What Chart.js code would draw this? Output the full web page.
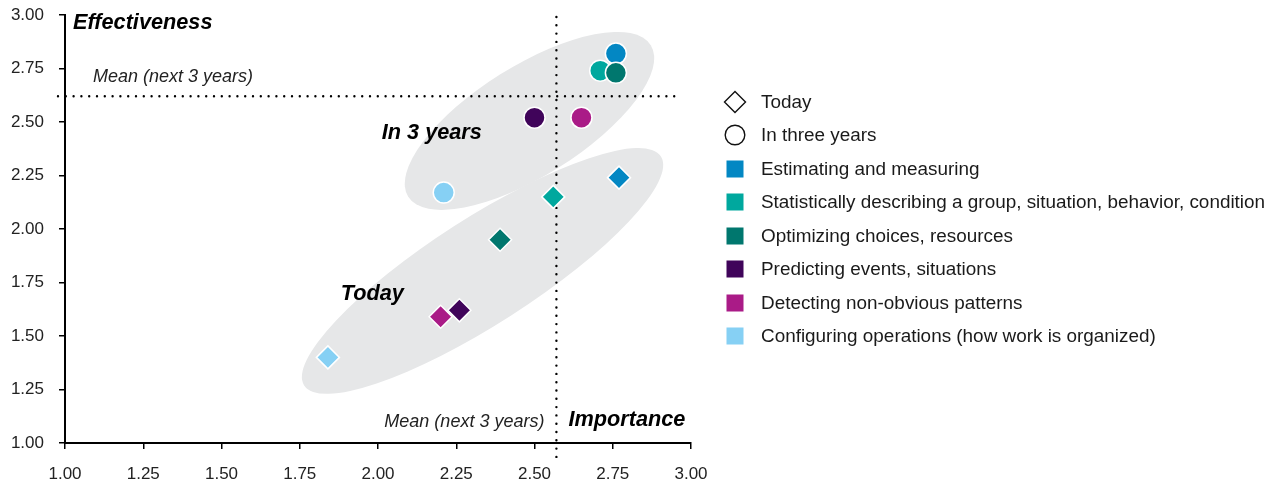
<!DOCTYPE html>
<html>
<head>
<meta charset="utf-8">
<script src="https://cdn.jsdelivr.net/npm/chart.js@4.4.0/dist/chart.umd.min.js"></script>
<style>
html,body{margin:0;padding:0;background:#fff;width:1274px;height:486px;overflow:hidden;font-family:"Liberation Sans",Arial,Helvetica,sans-serif;}
#wrap{position:relative;width:1274px;height:486px;}
#c{position:absolute;left:0;top:0;}
#legend{position:absolute;left:722px;top:85px;margin:0;padding:0;list-style:none;}
#legend li{height:33.5px;display:flex;align-items:center;font-size:18.9px;color:#1a1a1a;white-space:nowrap;}
#legend svg{width:26px;height:26px;margin-right:13px;flex:none;}
</style>
</head>
<body>
<div id="wrap">
  <canvas id="c" width="1274" height="486"></canvas>
  <ul id="legend"></ul>
</div>
<script>
// ---- data ----
const categories = [
  'Estimating and measuring',
  'Statistically describing a group, situation, behavior, condition',
  'Optimizing choices, resources',
  'Predicting events, situations',
  'Detecting non-obvious patterns',
  'Configuring operations (how work is organized)'
];
const colors = ['#0387c3', '#00a89e', '#00776e', '#40045a', '#aa1b87', '#86d0f4'];
const timeLabels = ['Today', 'In three years'];
const todayX  = [2.77, 2.56, 2.39, 2.26, 2.20, 1.84];
const todayY  = [2.24, 2.15, 1.95, 1.62, 1.59, 1.40];
const futureX = [2.76, 2.71, 2.76, 2.50, 2.65, 2.21];
const futureY = [2.82, 2.74, 2.73, 2.52, 2.52, 2.17];
const meanX = 2.57;   // Importance mean (next 3 years)
const meanY = 2.62;   // Effectiveness mean (next 3 years)
const xTicks = ['1.00','1.25','1.50','1.75','2.00','2.25','2.50','2.75','3.00'];
const yTicks = ['1.00','1.25','1.50','1.75','2.00','2.25','2.50','2.75','3.00'];

const FONT = '"Liberation Sans", Arial, Helvetica, sans-serif';

// decorative group ellipses (centre in data units)
const groups = [
  {label: 'In 3 years', cx: 2.484, cy: 2.505, rx: 143, ry: 55, angle: 32, tx: 2.012, ty: 2.449},
  {label: 'Today',      cx: 2.334, cy: 1.804, rx: 212, ry: 53, angle: 32.7, tx: 1.881, ty: 1.696}
];

const annot = {
  id: 'annot',
  beforeDatasetsDraw(chart) {
    const {ctx, chartArea: a, scales: {x, y}} = chart;
    ctx.save();
    ctx.fillStyle = '#e6e7e8';
    for (const g of groups) {
      ctx.beginPath();
      ctx.ellipse(x.getPixelForValue(g.cx), y.getPixelForValue(g.cy), g.rx, g.ry,
                  -g.angle * Math.PI / 180, 0, Math.PI * 2);
      ctx.fill();
    }
    const mx = x.getPixelForValue(meanX), my = y.getPixelForValue(meanY);
    ctx.strokeStyle = '#000';
    ctx.lineWidth = 2.4;
    ctx.lineCap = 'round';
    ctx.setLineDash([0, 7.8]);
    ctx.beginPath();
    ctx.moveTo(a.left - 7, my);
    ctx.lineTo(x.getPixelForValue(2.965), my);
    ctx.stroke();
    ctx.setLineDash([0, 8.3]);
    ctx.beginPath();
    ctx.moveTo(mx, a.top + 2);
    ctx.lineTo(mx, a.bottom + 18);
    ctx.stroke();
    ctx.setLineDash([]);

    ctx.textBaseline = 'middle';
    ctx.fillStyle = '#000';
    ctx.font = 'italic bold 21.7px ' + FONT;
    ctx.textAlign = 'left';
    ctx.fillText('Effectiveness', a.left + 8, a.top + 8);
    ctx.fillText('Importance', mx + 12, a.bottom - 23);
    for (const g of groups) {
      ctx.fillText(g.label, x.getPixelForValue(g.tx), y.getPixelForValue(g.ty));
    }
    ctx.font = 'italic 18px ' + FONT;
    ctx.fillStyle = '#222';
    ctx.fillText('Mean (next 3 years)', a.left + 28, my - 19);
    ctx.textAlign = 'right';
    ctx.fillText('Mean (next 3 years)', mx - 12, a.bottom - 21);
    ctx.restore();
  }
};

const pts = (xs, ys) => xs.map((v, i) => ({x: v, y: ys[i]}));

new Chart(document.getElementById('c'), {
  type: 'scatter',
  data: {
    datasets: [
      {
        label: timeLabels[0],
        data: pts(todayX, todayY),
        pointStyle: 'rectRot',
        pointRadius: 11.5,
        pointHoverRadius: 11.5,
        pointBackgroundColor: colors,
        pointBorderColor: '#fff',
        pointBorderWidth: 1.5,
        pointHoverBorderWidth: 1.5
      },
      {
        label: timeLabels[1],
        data: pts(futureX, futureY),
        pointStyle: 'circle',
        pointRadius: 10.5,
        pointHoverRadius: 10.5,
        pointBackgroundColor: colors,
        pointBorderColor: '#fff',
        pointBorderWidth: 1.5,
        pointHoverBorderWidth: 1.5
      }
    ]
  },
  options: {
    responsive: false,
    animation: false,
    events: [],
    layout: {padding: {left: 0, top: 15, right: 583, bottom: 0}},
    plugins: {legend: {display: false}, tooltip: {enabled: false}},
    scales: {
      x: {
        type: 'linear', min: 1, max: 3,
        afterBuildTicks: s => { s.ticks = xTicks.map(t => ({value: parseFloat(t)})); },
        ticks: {callback: (v, i) => xTicks[i], color: '#222', font: {size: 17, family: FONT},
                padding: 15, maxRotation: 0, autoSkip: false},
        grid: {display: true, drawOnChartArea: false, drawTicks: true, tickLength: 6, color: '#000', lineWidth: 1.5},
        border: {display: true, color: '#000', width: 2},
        afterFit: s => { s.height = 43; s.paddingLeft = 0; s.paddingRight = 0; }
      },
      y: {
        type: 'linear', min: 1, max: 3,
        afterBuildTicks: s => { s.ticks = yTicks.map(t => ({value: parseFloat(t)})); },
        ticks: {callback: (v, i) => yTicks[i], color: '#222', font: {size: 17, family: FONT},
                padding: 15, autoSkip: false},
        grid: {display: true, drawOnChartArea: false, drawTicks: true, tickLength: 6, color: '#000', lineWidth: 1.5},
        border: {display: true, color: '#000', width: 2},
        afterFit: s => { s.width = 65; s.paddingTop = 0; s.paddingBottom = 0; }
      }
    }
  },
  plugins: [annot]
});

// ---- HTML legend built from the arrays ----
const ns = 'http://www.w3.org/2000/svg';
const legend = document.getElementById('legend');
function addItem(svgInner, text) {
  const li = document.createElement('li');
  const svg = document.createElementNS(ns, 'svg');
  svg.setAttribute('viewBox', '0 0 26 26');
  svg.innerHTML = svgInner;
  li.appendChild(svg);
  const span = document.createElement('span');
  span.textContent = text;
  li.appendChild(span);
  legend.appendChild(li);
}
addItem('<path d="M13 2.5 L23.5 13 L13 23.5 L2.5 13 Z" fill="#fff" stroke="#111" stroke-width="1.4"/>', timeLabels[0]);
addItem('<circle cx="13" cy="13" r="9.8" fill="#fff" stroke="#111" stroke-width="1.4"/>', timeLabels[1]);
categories.forEach((c, i) => {
  addItem('<rect x="4.5" y="4.5" width="17" height="17" fill="' + colors[i] + '"/>', c);
});
</script>
</body>
</html>
